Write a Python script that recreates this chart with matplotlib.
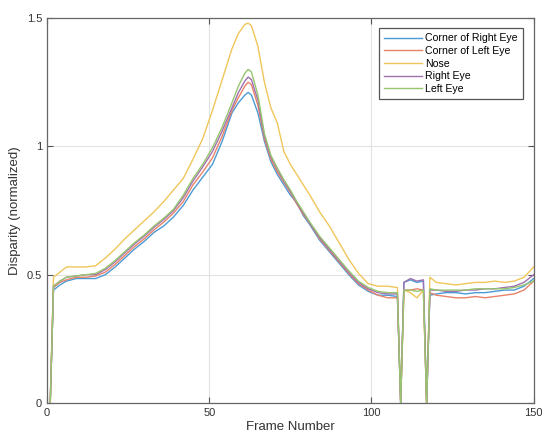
import matplotlib
matplotlib.use('Agg')
import matplotlib.pyplot as plt

plt.rcParams['font.family'] = ['Liberation Sans', 'DejaVu Sans']

frames = [1, 2, 4, 6, 9, 12, 15, 18, 21, 24, 27, 30, 33, 36, 39, 42, 45, 48, 51, 54,
          57, 59, 61, 62, 63, 65, 67, 69, 71, 73, 75, 77, 79, 81, 84, 87, 90, 93, 96, 99,
          102, 105, 108, 109, 110, 112, 114, 116, 117, 118, 120, 123, 126, 129, 132, 135,
          138, 141, 144, 147, 150]

corner_right = [0, 0.44, 0.46, 0.475, 0.485, 0.485, 0.485, 0.50, 0.53, 0.565,
                0.60, 0.63, 0.665, 0.69, 0.725, 0.77, 0.83, 0.88, 0.93, 1.02,
                1.13, 1.17, 1.20, 1.21, 1.20, 1.13, 1.02, 0.94, 0.89, 0.85,
                0.81, 0.78, 0.73, 0.695, 0.635, 0.59, 0.545, 0.50, 0.46, 0.435,
                0.42, 0.42, 0.415, 0, 0.47, 0.48, 0.47, 0.475, 0, 0.42,
                0.425, 0.43, 0.43, 0.425, 0.43, 0.43, 0.435, 0.44, 0.44, 0.455,
                0.485]
corner_left = [0, 0.45, 0.47, 0.48, 0.49, 0.49, 0.495, 0.51, 0.54, 0.575,
               0.61, 0.64, 0.675, 0.705, 0.74, 0.785, 0.85, 0.90, 0.955, 1.04,
               1.14, 1.19, 1.235, 1.25, 1.24, 1.16, 1.03, 0.95, 0.90, 0.86,
               0.82, 0.775, 0.735, 0.70, 0.64, 0.595, 0.55, 0.505, 0.465, 0.44,
               0.42, 0.41, 0.41, 0, 0.44, 0.44, 0.445, 0.44, 0, 0.43,
               0.42, 0.415, 0.41, 0.41, 0.415, 0.41, 0.415, 0.42, 0.425, 0.44,
               0.475]
nose = [0, 0.49, 0.51, 0.53, 0.53, 0.53, 0.535, 0.565, 0.60, 0.64,
        0.675, 0.71, 0.745, 0.785, 0.83, 0.875, 0.95, 1.03, 1.14, 1.26,
        1.38, 1.44, 1.475, 1.48, 1.47, 1.39, 1.25, 1.15, 1.09, 0.98,
        0.93, 0.89, 0.85, 0.81, 0.745, 0.69, 0.625, 0.56, 0.505, 0.465,
        0.455, 0.455, 0.45, 0, 0.44, 0.43, 0.41, 0.44, 0, 0.49,
        0.47, 0.465, 0.46, 0.465, 0.47, 0.47, 0.475, 0.47, 0.475, 0.49,
        0.53]
right_eye = [0, 0.455, 0.475, 0.49, 0.495, 0.50, 0.50, 0.52, 0.55, 0.585,
             0.62, 0.65, 0.685, 0.715, 0.75, 0.80, 0.865, 0.92, 0.98, 1.06,
             1.15, 1.21, 1.255, 1.27, 1.26, 1.18, 1.04, 0.96, 0.91, 0.865,
             0.825, 0.78, 0.74, 0.70, 0.645, 0.60, 0.555, 0.51, 0.47, 0.445,
             0.43, 0.425, 0.425, 0, 0.47, 0.485, 0.475, 0.48, 0, 0.44,
             0.44, 0.435, 0.435, 0.44, 0.44, 0.445, 0.445, 0.45, 0.455, 0.47,
             0.50]
left_eye = [0, 0.455, 0.475, 0.49, 0.495, 0.50, 0.505, 0.525, 0.555, 0.59,
            0.625, 0.655, 0.69, 0.72, 0.755, 0.81, 0.875, 0.93, 0.995, 1.075,
            1.17, 1.235, 1.285, 1.30, 1.29, 1.20, 1.05, 0.965, 0.915, 0.87,
            0.83, 0.785, 0.745, 0.705, 0.65, 0.605, 0.56, 0.515, 0.475, 0.45,
            0.435, 0.43, 0.43, 0, 0.44, 0.44, 0.435, 0.44, 0, 0.445,
            0.44, 0.44, 0.44, 0.44, 0.445, 0.445, 0.445, 0.445, 0.45, 0.46,
            0.475]

labels = ['Corner of Right Eye', 'Corner of Left Eye', 'Nose', 'Right Eye', 'Left Eye']
colors = ['#4a9bd6', '#e8826a', '#f0c65a', '#a070b0', '#98c670']

fig = plt.figure(figsize=(5.42, 4.34), dpi=100)
ax = fig.add_axes([0.0867, 0.0714, 0.898, 0.8871])

for ys, lab, c in zip([corner_right, corner_left, nose, right_eye, left_eye], labels, colors):
    ax.plot(frames, ys, color=c, lw=1.0, label=lab)

ax.set_xlim(0, 150)
ax.set_ylim(0, 1.5)
ax.set_xticks([0, 50, 100, 150])
ax.set_yticks([0, 0.5, 1, 1.5])
ax.set_yticklabels(['0', '0.5', '1', '1.5'])
ax.grid(True, color='#e2e2e2', lw=0.8)
ax.set_axisbelow(True)
ax.tick_params(direction='in', length=4, width=0.8, colors='#555555',
               labelcolor='#333333', labelsize=8, top=True, right=True)
for s in ax.spines.values():
    s.set_color('#666666')
    s.set_linewidth(0.9)
ax.set_xlabel('Frame Number', fontsize=9.5, color='#333333', labelpad=2)
ax.set_ylabel('Disparity (normalized)', fontsize=9.5, color='#333333', labelpad=4)

leg = ax.legend(loc='upper right', bbox_to_anchor=(0.9775, 0.974), borderaxespad=0,
                fontsize=7.6, handlelength=3.6, labelspacing=0.25, handletextpad=0.3,
                fancybox=False, framealpha=1, borderpad=0.5)
leg.get_frame().set_edgecolor('#555555')
leg.get_frame().set_linewidth(0.9)

fig.savefig('out.png', dpi=100)
